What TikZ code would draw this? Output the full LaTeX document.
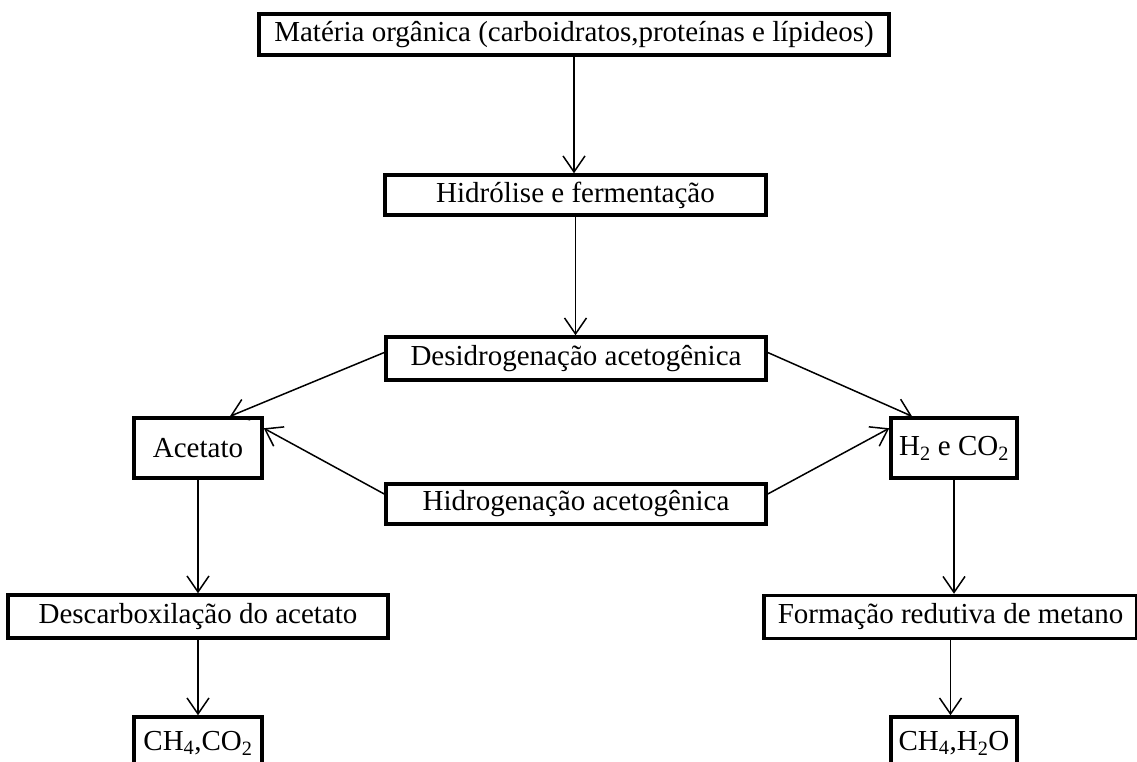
\documentclass[tikz,border=0pt]{standalone}
\usepackage{fontspec}
\setmainfont{Liberation Serif}
\usetikzlibrary{arrows.meta,positioning}

\begin{document}
\begin{tikzpicture}[x=1pt, y=-1pt,
  box/.style={rectangle, draw=black, line width=3.5pt, inner sep=0pt, font=\fontsize{29}{33}\selectfont, text centered},
  arr/.style={-{Straight Barb[length=16pt,width=22pt]}, line width=1.5pt, black},
]
  \useasboundingbox (0,0) rectangle (1137,762);
  \clip (0,0) rectangle (1137,762);

  \node[box, minimum width=630, minimum height=41] (organica) at (574,34.5) {Matéria orgânica (carboidratos,proteínas e lípideos)};
  \node[box, minimum width=381, minimum height=40] (hidrolise) at (575.5,195) {Hidrólise e fermentação};
  \node[box, minimum width=380, minimum height=43] (desidrog) at (576,358.5) {Desidrogenação acetogênica};

  \node[box, minimum width=128, minimum height=60] (acetato) at (198,448) {Acetato};
  \node[box, minimum width=126, minimum height=60] (h2co2) at (954,448) {H\textsubscript{2} e CO\textsubscript{2}};
  \node[box, minimum width=380, minimum height=40] (hidrogen) at (576,504) {Hidrogenação acetogênica};

  \node[box, minimum width=380, minimum height=43] (descarb) at (198,616.5) {Descarboxilação do acetato};
  \node[box, minimum width=373, minimum height=43] (formacao) at (950.5,617) {Formação redutiva de metano};

  \node[box, minimum width=128, minimum height=52] (ch4co2) at (198,743) {CH\textsubscript{4},CO\textsubscript{2}};
  \node[box, minimum width=126, minimum height=52] (ch4h2o) at (954,743) {CH\textsubscript{4},H\textsubscript{2}O};

  % vertical chain
  \draw[arr] (organica.south) -- (organica.south |- hidrolise.north);
  \draw[arr] (hidrolise.south) -- (hidrolise.south |- desidrog.north);

  % split and merge
  \draw[arr] ([yshift=6pt]desidrog.west) -- ([xshift=32pt]acetato.north);
  \draw[arr] ([yshift=6pt]desidrog.east) -- ([xshift=-42pt]h2co2.north);
  \draw[arr] ([yshift=10pt]hidrogen.west) -- ([yshift=-12pt]acetato.north east);
  \draw[arr] ([yshift=10pt]hidrogen.east) -- ([yshift=-12pt]h2co2.north west);

  % towards methane
  \draw[arr] (acetato.south) -- (acetato.south |- descarb.north);
  \draw[arr] (h2co2.south) -- (h2co2.south |- formacao.north);
  \draw[arr] (descarb.south) -- (descarb.south |- ch4co2.north);
  \draw[arr] (formacao.south) -- (formacao.south |- ch4h2o.north);
\end{tikzpicture}
\end{document}
